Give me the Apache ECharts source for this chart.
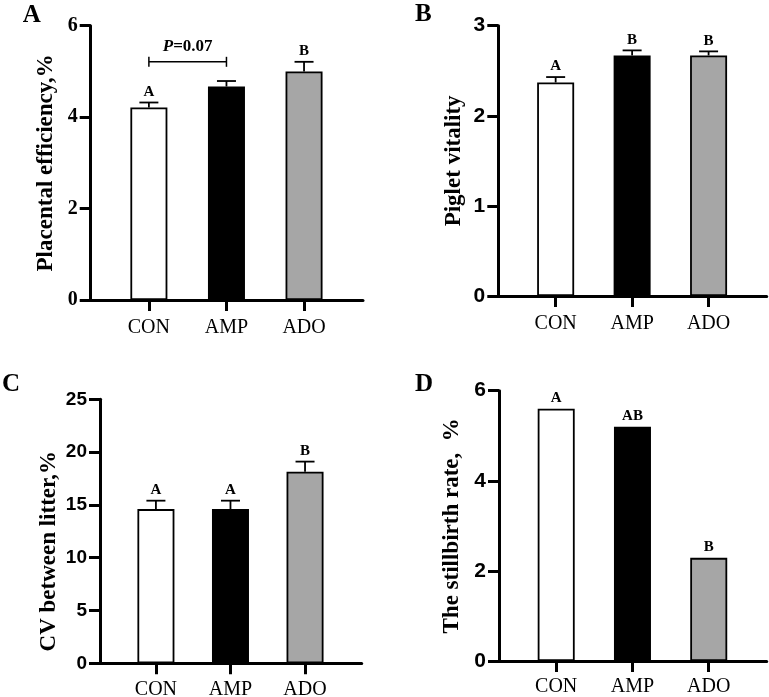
<!DOCTYPE html>
<html>
<head>
<meta charset="utf-8">
<script src="https://cdn.jsdelivr.net/npm/echarts@6/dist/echarts.min.js"></script>
<style>
html,body{margin:0;padding:0;background:#fff;}
#chart{width:769px;height:697px;}
</style>
</head>
<body>
<div id="chart"></div>
<script>
// ---- data ----
const categories = ['CON', 'AMP', 'ADO'];

const aValues  = [4.21, 4.67, 5.00];
const aErrors  = [0.11, 0.12, 0.21];
const aLetters = ['A', '', 'B'];
const aCompare = [0, 1];          // categories compared by the bracket
const aCompareY = 5.21;           // bracket height (axis units)
const aCompareP = '0.07';

const bValues  = [2.37, 2.67, 2.67];
const bErrors  = [0.06, 0.056, 0.045];
const bLetters = ['A', 'B', 'B'];

const cValues  = [14.6, 14.6, 18.15];
const cErrors  = [0.8, 0.8, 0.95];
const cLetters = ['A', 'A', 'B'];

const dValues  = [5.6, 5.2, 2.29];
const dErrors  = [0, 0, 0];
const dLetters = ['A', 'AB', 'B'];

const panelNames = ['Placental efficiency,%', 'Piglet vitality', 'CV between litter,%', 'The stillbirth rate,  %'];
const panelTags = ['A', 'B', 'C', 'D'];

// ---- styles ----
const fills = ['#ffffff', '#000000', '#a6a6a6'];
const SERIF = '"Liberation Serif", "Times New Roman", serif';
const SANS = '"Liberation Sans", Arial, sans-serif';

const grids = [], xAxes = [], yAxes = [], series = [];

function addPanel(i, g, yMax, yInt, values, errors, letters, tickFamily, tickSize, name, nameGap, namePad, xMargin) {
  grids.push({left: g[0], top: g[1], width: g[2], height: g[3], containLabel: false, outerBoundsMode: 'none'});
  xAxes.push({
    type: 'value', gridIndex: i, min: -0.75, max: 2.76,
    splitLine: {show: false},
    axisLine: {show: true, onZero: false, lineStyle: {color: '#000', width: 3}},
    axisTick: {show: true, customValues: [0, 1, 2], length: 11, lineStyle: {color: '#000', width: 3}},
    axisLabel: {show: true, customValues: [0, 1, 2], margin: xMargin,
      formatter: v => categories[Math.round(v)] || '',
      fontFamily: SERIF, fontSize: 20, color: '#000'}
  });
  yAxes.push({
    type: 'value', gridIndex: i, min: 0, max: yMax, interval: yInt,
    splitLine: {show: false},
    axisLine: {show: true, onZero: false, lineStyle: {color: '#000', width: 3}},
    axisTick: {show: true, length: 11, lineStyle: {color: '#000', width: 3}},
    axisLabel: {margin: 13, fontFamily: tickFamily, fontWeight: 'bold', fontSize: tickSize, color: '#000'},
    name: name, nameLocation: 'middle', nameGap: nameGap,
    nameTextStyle: {fontFamily: SERIF, fontWeight: 'bold', fontSize: 23, color: '#000', padding: namePad}
  });
  series.push({
    type: 'bar', xAxisIndex: i, yAxisIndex: i, barWidth: 37, animation: false,
    data: values.map((v, k) => ({value: [k, v], itemStyle: {color: fills[k]}})),
    itemStyle: {borderColor: '#000', borderWidth: 1.8}
  });
  series.push({
    type: 'custom', xAxisIndex: i, yAxisIndex: i, animation: false, z: 5,
    data: values.map((v, k) => [k, v, errors[k]]),
    renderItem: function (params, api) {
      const x = api.value(0), v = api.value(1), e = api.value(2);
      const base = api.coord([x, v]);
      const top = api.coord([x, v + e]);
      const ch = [];
      if (e > 0) {
        ch.push({type: 'line', shape: {x1: base[0], y1: base[1], x2: top[0], y2: top[1]}, style: {stroke: '#000', lineWidth: 1.8}});
        ch.push({type: 'line', shape: {x1: top[0] - 9.5, y1: top[1], x2: top[0] + 9.5, y2: top[1]}, style: {stroke: '#000', lineWidth: 1.8}});
      }
      const L = letters[params.dataIndex];
      if (L) {
        ch.push({type: 'text', x: top[0], y: top[1] - 10.5,
          style: {text: L, font: 'bold 15px ' + SERIF, fill: '#000', align: 'center', verticalAlign: 'middle'}});
      }
      return {type: 'group', children: ch};
    }
  });
}

addPanel(0, [90.7, 25.7, 272.3, 274.3], 6, 2, aValues, aErrors, aLetters, SERIF, 20, panelNames[0], 33, [0, 0, 0, 0], 18);
addPanel(1, [498.3, 25.7, 268.4, 270.3], 3, 1, bValues, bErrors, bLetters, SANS, 21, panelNames[1], 33, [0, 0, 0, 0], 18);
addPanel(2, [100, 399.3, 261.7, 264], 25, 5, cValues, cErrors, cLetters, SANS, 19, panelNames[2], 39, [0, 40, 0, 0], 16);
addPanel(3, [499, 390.7, 267.7, 270.3], 6, 2, dValues, dErrors, dLetters, SANS, 21, panelNames[3], 35, [0, 0, 0, 0], 16);

// significance bracket in panel A
series.push({
  type: 'custom', xAxisIndex: 0, yAxisIndex: 0, animation: false, z: 6,
  data: [[aCompare[0], aCompare[1], aCompareY]],
  renderItem: function (params, api) {
    const p1 = api.coord([api.value(0), api.value(2)]);
    const p2 = api.coord([api.value(1), api.value(2)]);
    const st = {stroke: '#000', lineWidth: 1.5};
    return {type: 'group', children: [
      {type: 'line', shape: {x1: p1[0], y1: p1[1], x2: p2[0], y2: p2[1]}, style: st},
      {type: 'line', shape: {x1: p1[0], y1: p1[1] - 5, x2: p1[0], y2: p1[1] + 5}, style: st},
      {type: 'line', shape: {x1: p2[0], y1: p2[1] - 5, x2: p2[0], y2: p2[1] + 5}, style: st},
      {type: 'text', x: (p1[0] + p2[0]) / 2, y: p1[1] - 15,
        style: {text: '{i|P}{b|=' + aCompareP + '}', align: 'center', verticalAlign: 'middle',
          rich: {
            i: {fontFamily: SERIF, fontStyle: 'italic', fontWeight: 'bold', fontSize: 17, fill: '#000', color: '#000'},
            b: {fontFamily: SERIF, fontWeight: 'bold', fontSize: 17, fill: '#000', color: '#000'}
          }}}
    ]};
  }
});

const tagPos = [[31.7, 15.5], [423.3, 14.7], [11, 384.7], [424, 385]];
const graphics = panelTags.map((t, k) => ({
  type: 'text', x: tagPos[k][0], y: tagPos[k][1],
  style: {text: t, font: 'bold 25px ' + SERIF, fill: '#000', align: 'center', verticalAlign: 'middle'}
}));

const chart = echarts.init(document.getElementById('chart'), null, {renderer: 'canvas'});
chart.setOption({
  backgroundColor: '#fff',
  animation: false,
  grid: grids, xAxis: xAxes, yAxis: yAxes, series: series,
  graphic: graphics
});
</script>
</body>
</html>
